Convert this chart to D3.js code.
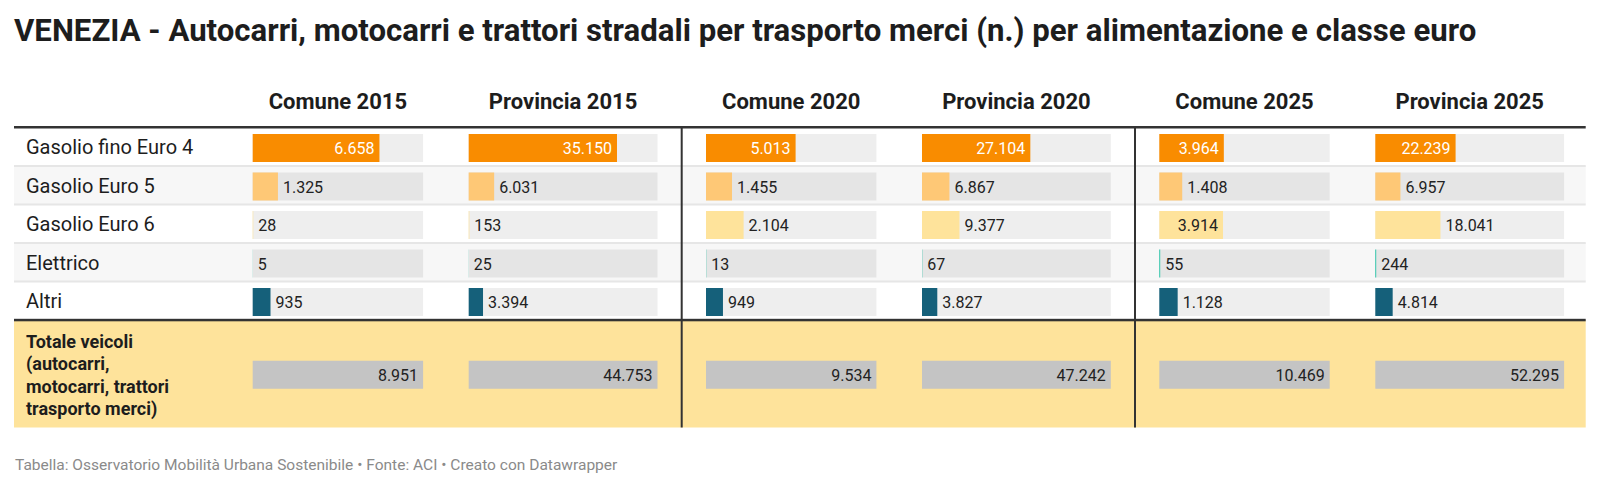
<!DOCTYPE html>
<html><head><meta charset="utf-8">
<script src="https://cdn.jsdelivr.net/npm/d3@7"></script>
<style>
html,body{margin:0;padding:0;background:#fff;}
svg{display:block;font-family:Roboto,"Noto Sans",sans-serif;}
</style></head>
<body>
<svg id="chart" width="1600" height="489"></svg>
<script>
const titleText = "VENEZIA - Autocarri, motocarri e trattori stradali per trasporto merci (n.) per alimentazione e classe euro";
const footerText = "Tabella: Osservatorio Mobilità Urbana Sostenibile • Fonte: ACI • Creato con Datawrapper";
const columns = ["Comune 2015","Provincia 2015","Comune 2020","Provincia 2020","Comune 2025","Provincia 2025"];
const categories = ["Gasolio fino Euro 4","Gasolio Euro 5","Gasolio Euro 6","Elettrico","Altri"];
const euro4 = [6658, 35150, 5013, 27104, 3964, 22239];
const euro5 = [1325, 6031, 1455, 6867, 1408, 6957];
const euro6 = [28, 153, 2104, 9377, 3914, 18041];
const elettrico = [5, 25, 13, 67, 55, 244];
const altri = [935, 3394, 949, 3827, 1128, 4814];
const totalLabel = ["Totale veicoli","(autocarri,","motocarri, trattori","trasporto merci)"];
const totals = [8951, 44753, 9534, 47242, 10469, 52295];

const seriesValues = [euro4, euro5, euro6, elettrico, altri];
const seriesColors = ["#f98c00", "#fec876", "#fee39b", "#1fc4a5", "#15607a"];
const labelInsideColor = ["#ffffff", "#222", "#222", "#222", "#ffffff"];

const it = d3.formatLocale({decimal: ",", thousands: ".", grouping: [3], currency: ["€", ""]});
const fmt = it.format(",d");

const svg = d3.select("#chart");
const tableLeft = 14, tableRight = 1585.7;
const headerLineY = 127.5;
const rowH = 38.5;
const barH = 28, barOff = 6.5;
const totalTop = headerLineY + rowH * categories.length;
const totalH = 107.5;
const groupStarts = [228.4, 681.7, 1135];
const colLayout = columns.map((c, i) => {
  const g = groupStarts[Math.floor(i / 2)];
  return i % 2 === 0 ? {x: g + 24.3, w: 170.4} : {x: g + 240.3, w: 188.8};
});
const scales = columns.map((c, i) => d3.scaleLinear().domain([0, totals[i]]).range([0, colLayout[i].w]));

// Title (sized to span the reference width)
const title = svg.append("text").attr("x", 14).attr("y", 41)
  .attr("font-size", 28).attr("font-weight", 700).attr("fill", "#1d1d1d")
  .text(titleText);
const tl = title.node().getComputedTextLength();
title.attr("font-size", 28 * (1476.5 - 14) / tl);

// Column headers
svg.selectAll(".colhead").data(columns).join("text")
  .attr("class", "colhead")
  .attr("x", (d, i) => colLayout[i].x + colLayout[i].w / 2)
  .attr("y", 109)
  .attr("text-anchor", "middle")
  .attr("font-size", 22).attr("font-weight", 700).attr("fill", "#1d1d1d")
  .text(d => d);

// Rows
const rows = svg.selectAll(".row").data(categories).join("g")
  .attr("class", "row")
  .attr("transform", (d, i) => `translate(0,${headerLineY + i * rowH})`);
rows.append("rect").attr("x", tableLeft).attr("y", 0)
  .attr("width", tableRight - tableLeft).attr("height", rowH)
  .attr("fill", (d, i) => i % 2 === 1 ? "#f7f7f7" : "#ffffff");
rows.filter((d, i) => i > 0).append("rect").attr("x", tableLeft).attr("y", -1)
  .attr("width", tableRight - tableLeft).attr("height", 2).attr("fill", "#e6e6e6");

rows.append("text").attr("x", 26).attr("y", rowH / 2 + 7.5)
  .attr("font-size", 20).attr("fill", "#1d1d1d").text(d => d);

rows.each(function(cat, ri) {
  const g = d3.select(this);
  const vals = seriesValues[ri];
  columns.forEach((col, ci) => {
    const L = colLayout[ci];
    g.append("rect").attr("x", L.x).attr("y", barOff).attr("width", L.w).attr("height", barH)
      .attr("fill", ri % 2 === 1 ? "#e5e5e5" : "#eeeeee");
    const bw = scales[ci](vals[ci]);
    g.append("rect").attr("x", L.x).attr("y", barOff).attr("width", bw).attr("height", barH)
      .attr("fill", seriesColors[ri]);
    const t = g.append("text").attr("y", barOff + barH / 2 + 6)
      .attr("font-size", 16).text(fmt(vals[ci]));
    const tw = t.node().getComputedTextLength();
    if (bw - tw > 20) {
      t.attr("x", L.x + bw - 5).attr("text-anchor", "end").attr("fill", labelInsideColor[ri]);
    } else {
      t.attr("x", L.x + bw + 5).attr("text-anchor", "start").attr("fill", "#222");
    }
  });
});

// Total row
const tg = svg.append("g").attr("transform", `translate(0,${totalTop})`);
tg.append("rect").attr("x", tableLeft).attr("y", 0).attr("width", tableRight - tableLeft)
  .attr("height", totalH).attr("fill", "#fee39b");
tg.append("text").attr("font-size", 18).attr("font-weight", 700).attr("fill", "#1d1d1d")
  .selectAll("tspan").data(totalLabel).join("tspan")
  .attr("x", 26).attr("y", (d, i) => 27.5 + i * 22.6).text(d => d);
const tBarY = totalH / 2 - barH / 2 + 1;
columns.forEach((col, ci) => {
  const L = colLayout[ci];
  tg.append("rect").attr("x", L.x).attr("y", tBarY).attr("width", scales[ci](totals[ci])).attr("height", barH)
    .attr("fill", "#c4c4c4");
  tg.append("text").attr("x", L.x + scales[ci](totals[ci]) - 5).attr("y", tBarY + barH / 2 + 6)
    .attr("text-anchor", "end").attr("font-size", 16).attr("fill", "#222").text(fmt(totals[ci]));
});

// Lines
svg.append("rect").attr("x", tableLeft).attr("y", headerLineY - 1.5).attr("width", tableRight - tableLeft)
  .attr("height", 2.5).attr("fill", "#333");
svg.append("rect").attr("x", tableLeft).attr("y", totalTop - 1.2).attr("width", tableRight - tableLeft)
  .attr("height", 2.5).attr("fill", "#333");
[groupStarts[1], groupStarts[2]].forEach(x => {
  svg.append("rect").attr("x", x - 1).attr("y", headerLineY).attr("width", 2)
    .attr("height", totalTop + totalH - headerLineY).attr("fill", "#333");
});

// Footer (sized to span the reference width)
const foot = svg.append("text").attr("x", 15).attr("y", 470).attr("font-size", 15.5).attr("fill", "#8a8a8a")
  .text(footerText);
const fl = foot.node().getComputedTextLength();
foot.attr("font-size", 15.5 * (618 - 15) / fl);
</script>
</body></html>
